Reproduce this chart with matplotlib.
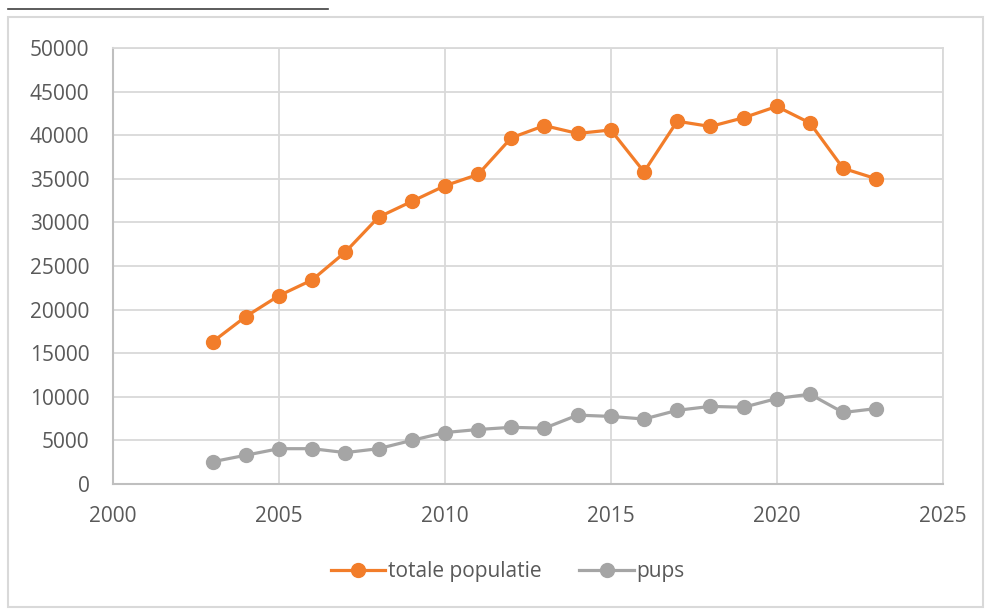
import matplotlib.pyplot as plt
from matplotlib.lines import Line2D
from matplotlib.patches import Rectangle

ORANGE = "#f27d2a"
GREY = "#a5a5a5"
GRID = "#d9d9d9"
TEXT = "#595959"

years = list(range(2003, 2024))
totale_populatie = [16300, 19200, 21600, 23400, 26600, 30600, 32400, 34200, 35500, 39700, 41100,
                    40200, 40600, 35800, 41600, 41000, 42000, 43300, 41400, 36200, 35000]
pups = [2550, 3300, 4050, 4050, 3600, 4050, 5000, 5900, 6250, 6500, 6400,
        7900, 7750, 7450, 8450, 8900, 8800, 9800, 10300, 8200, 8650]

x_ticks = [2000, 2005, 2010, 2015, 2020, 2025]
y_ticks = list(range(0, 50001, 5000))

plt.rcParams["font.family"] = ["Open Sans", "DejaVu Sans"]

fig = plt.figure(figsize=(9.85, 6.09), dpi=100)
fig.patch.set_facecolor("white")

# chart frame and the short rule above it
fig.add_artist(Rectangle((8 / 985, 1 - 607 / 609), 975 / 985, 590 / 609,
                         transform=fig.transFigure, facecolor="none",
                         edgecolor="#d9d9d9", linewidth=1.5))
fig.add_artist(Line2D([8 / 985, 328 / 985], [1 - 8.5 / 609] * 2,
                      transform=fig.transFigure, color="#404040", linewidth=1.2))

ax = fig.add_axes([113 / 985, 1 - 484 / 609, (942.7 - 113) / 985, (484 - 48) / 609])

ax.plot(years, totale_populatie, color=ORANGE, linewidth=2.3, marker="o",
        markersize=10, label="totale populatie", zorder=3)
ax.plot(years, pups, color=GREY, linewidth=2.3, marker="o",
        markersize=10, label="pups", zorder=3)

ax.set_xlim(2000, 2025)
ax.set_ylim(0, 50000)
ax.set_xticks(x_ticks)
ax.set_yticks(y_ticks)

ax.grid(True, color=GRID, linewidth=1.3)
ax.set_axisbelow(True)
for side in ["top", "right"]:
    ax.spines[side].set_color(GRID)
    ax.spines[side].set_linewidth(1.3)
for side in ["left", "bottom"]:
    ax.spines[side].set_color("#bfbfbf")
    ax.spines[side].set_linewidth(1.5)

ax.tick_params(axis="both", length=0, labelsize=15, labelcolor=TEXT)
ax.tick_params(axis="x", pad=16)
ax.tick_params(axis="y", pad=17)

ax.legend(loc="center", bbox_to_anchor=(508 / 985, 1 - 572 / 609),
          bbox_transform=fig.transFigure, ncol=2, frameon=False,
          fontsize=15, labelcolor=TEXT, handlelength=2.6, handletextpad=0.15,
          columnspacing=1.8)

plt.savefig("out.png", facecolor=fig.get_facecolor())
plt.close()
